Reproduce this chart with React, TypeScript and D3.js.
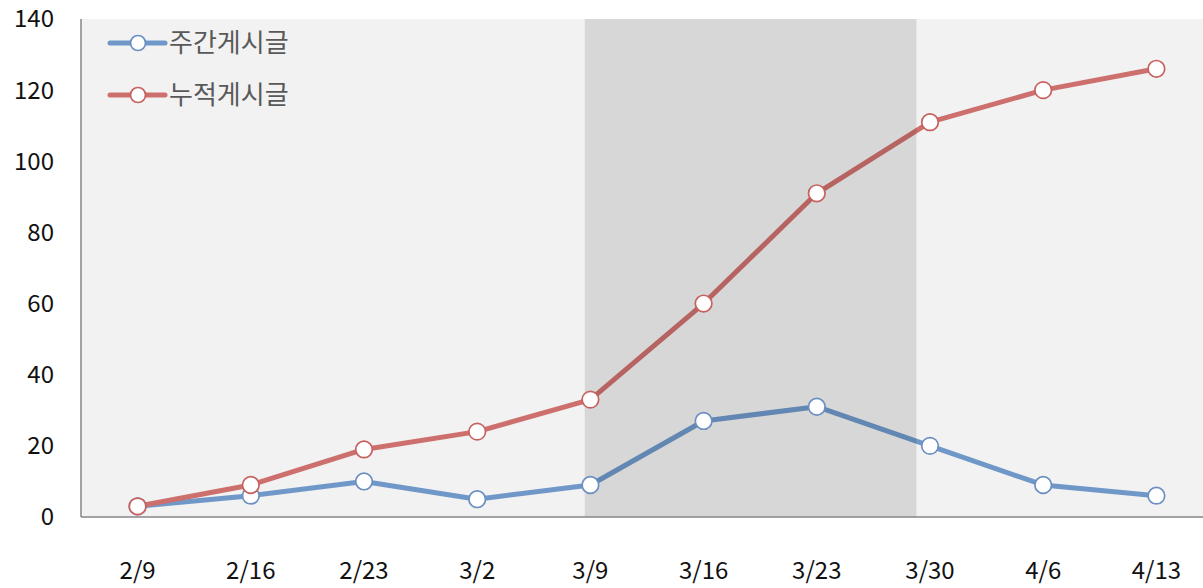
import React, { useEffect, useRef } from "react";
import * as d3 from "d3";

// week labels
const weeks = ["2/9", "2/16", "2/23", "3/2", "3/9", "3/16", "3/23", "3/30", "4/6", "4/13"];
// 주간 게시글
const weekly = [3, 6, 10, 5, 9, 27, 31, 20, 9, 6];
// 누적 게시글
const cumulative = [3, 9, 19, 24, 33, 60, 91, 111, 120, 126];
const yTicks = [0, 20, 40, 60, 80, 100, 120, 140];
// highlighted period, in category-index units
const shadeRange = [3.95, 6.88];

const seriesInfo = [
  { name: "주간게시글", values: weekly, color: "#6f98c9", marker: "#6a8fc0" },
  { name: "누적게시글", values: cumulative, color: "#cd706d", marker: "#c7615e" },
];

export default function App() {
  const ref = useRef<SVGSVGElement>(null);

  useEffect(() => {
    const svg = d3.select(ref.current);
    svg.selectAll("*").remove();

    const left = 81, top = 19, bottom = 517, right = 1213;
    const font = "'Noto Sans CJK KR', 'Noto Sans', sans-serif";

    const x = d3.scaleBand().domain(weeks).range([left, right]).padding(0);
    const cx = (d: string) => (x(d) as number) + x.bandwidth() / 2;
    const idx = (i: number) => cx(weeks[0]) + i * x.step();
    const y = d3.scaleLinear().domain([0, 140]).range([bottom, top]);

    // plot background
    svg.append("rect")
      .attr("x", left).attr("y", top)
      .attr("width", 1203 - left).attr("height", bottom - top)
      .attr("fill", "#f2f2f2");

    const line = d3.line<number>()
      .x((d, i) => cx(weeks[i]))
      .y(d => y(d));

    seriesInfo.forEach(s => {
      svg.append("path")
        .datum(s.values)
        .attr("d", line)
        .attr("fill", "none")
        .attr("stroke", s.color)
        .attr("stroke-width", 5)
        .attr("stroke-linejoin", "round");
    });

    // shaded period over the lines
    svg.append("rect")
      .attr("x", idx(shadeRange[0]))
      .attr("y", top)
      .attr("width", idx(shadeRange[1]) - idx(shadeRange[0]))
      .attr("height", bottom - top)
      .attr("fill", "#000")
      .attr("fill-opacity", 0.11);

    seriesInfo.forEach(s => {
      svg.append("g").selectAll("circle")
        .data(s.values)
        .enter().append("circle")
        .attr("cx", (d, i) => cx(weeks[i]))
        .attr("cy", d => y(d))
        .attr("r", 8.3)
        .attr("fill", "#fff")
        .attr("stroke", s.marker)
        .attr("stroke-width", 1.7);
    });

    // axes
    svg.append("line")
      .attr("x1", left).attr("x2", left).attr("y1", top).attr("y2", bottom)
      .attr("stroke", "#868686").attr("stroke-width", 1.5);
    svg.append("line")
      .attr("x1", left).attr("x2", 1203).attr("y1", bottom).attr("y2", bottom)
      .attr("stroke", "#868686").attr("stroke-width", 1.5);

    svg.append("g").selectAll("text")
      .data(yTicks)
      .enter().append("text")
      .attr("x", 54)
      .attr("y", d => y(d))
      .attr("dy", "0.35em")
      .attr("text-anchor", "end")
      .style("font-family", font)
      .style("font-size", "24px")
      .attr("fill", "#111")
      .text(d => d);

    svg.append("g").selectAll("text")
      .data(weeks)
      .enter().append("text")
      .attr("x", d => cx(d))
      .attr("y", 571)
      .attr("dy", "0.35em")
      .attr("text-anchor", "middle")
      .style("font-family", font)
      .style("font-size", "24px")
      .attr("fill", "#111")
      .text(d => d);

    // legend
    seriesInfo.forEach((s, i) => {
      const ly = 43 + i * 52;
      const g = svg.append("g");
      g.append("line")
        .attr("x1", 110).attr("x2", 165).attr("y1", ly).attr("y2", ly)
        .attr("stroke", s.color).attr("stroke-width", 5).attr("stroke-linecap", "round");
      g.append("circle")
        .attr("cx", 138).attr("cy", ly).attr("r", 7.5)
        .attr("fill", "#fff").attr("stroke", s.marker).attr("stroke-width", 1.7);
      g.append("text")
        .attr("x", 169).attr("y", ly)
        .attr("dy", "0.35em")
        .style("font-family", font)
        .style("font-size", "26px")
        .attr("fill", "#595959")
        .text(s.name);
    });
  }, []);

  return (
    <svg ref={ref} width={1203} height={588}
      style={{ position: "absolute", left: 0, top: 0, background: "#fff" }} />
  );
}
